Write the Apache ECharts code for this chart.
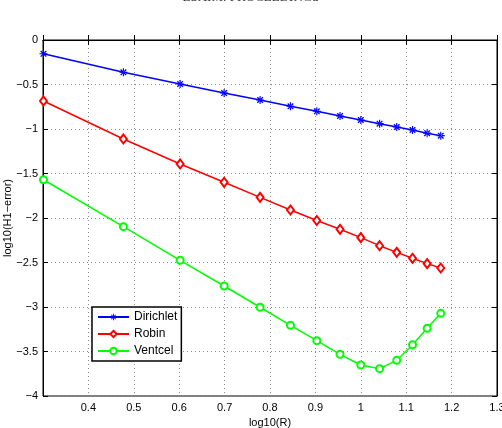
<!DOCTYPE html>
<html>
<head>
  <meta charset="utf-8">
  <title>log10(H1-error)</title>
  <script src="https://cdn.jsdelivr.net/npm/echarts@6/dist/echarts.min.js"></script>
</head>
<style>
  html, body { margin: 0; padding: 0; background: #fff; }
  #main { width: 502px; height: 428px; }
</style>
<body>
  <div id="main"></div>
  <script>
    // log10(R), R = 2..15
    const logR = [0.30103, 0.47712, 0.60206, 0.69897, 0.77815, 0.84510, 0.90309,
                  0.95424, 1.0, 1.04139, 1.07918, 1.11394, 1.14613, 1.17609];
    const dirichlet = [-0.155, -0.363, -0.494, -0.596, -0.674, -0.745, -0.801,
                       -0.854, -0.899, -0.940, -0.978, -1.011, -1.047, -1.075];
    const robin = [-0.685, -1.112, -1.393, -1.599, -1.768, -1.910, -2.028,
                   -2.127, -2.221, -2.311, -2.386, -2.453, -2.513, -2.562];
    const ventcel = [-1.570, -2.097, -2.475, -2.764, -3.003, -3.206, -3.378,
                     -3.532, -3.652, -3.693, -3.599, -3.424, -3.240, -3.071];

    // 8-armed asterisk like the matlab '*' marker
    const asterisk = 'path://M-0.7,-5 L0.7,-5 L0.7,5 L-0.7,5 Z M-5,-0.7 L5,-0.7 L5,0.7 L-5,0.7 Z ' +
      'M-2.93,-4.07 L4.07,2.93 L2.93,4.07 L-4.07,-2.93 Z M-2.93,4.07 L4.07,-2.93 L2.93,-4.07 L-4.07,2.93 Z';

    const font = 'Liberation Sans';
    const pair = (xs, ys) => xs.map((x, i) => [x, ys[i]]);

    const chart = echarts.init(document.getElementById('main'));

    const tickIn = { show: true, inside: true, length: 5, lineStyle: { color: '#000' } };
    const grid = { show: true, type: [1, 3], color: '#8c8c8c', width: 1 };

    chart.setOption({
      animation: false,
      graphic: [{
        type: 'text', left: 'center', top: -9,
        style: { text: 'ESAIM: PROCEEDINGS', font: '13px "Liberation Serif"', fill: '#333' }
      }],
      grid: {
        left: 43, right: 5, top: 40, bottom: 32, outerBoundsMode: 'none',
        show: true, borderColor: '#000', borderWidth: 1
      },
      xAxis: [{
        type: 'value', min: 0.3, max: 1.3, interval: 0.1,
        name: 'log10(R)', nameLocation: 'middle', nameGap: 19,
        nameTextStyle: { fontFamily: font, fontSize: 11, color: '#000' },
        axisLine: { lineStyle: { color: '#000' } },
        axisTick: tickIn,
        axisLabel: {
          fontFamily: font, fontSize: 11, color: '#000', margin: 6,
          formatter: v => Math.abs(v - 0.3) < 1e-6 ? '' : String(+v.toFixed(1))
        },
        splitLine: { show: true, lineStyle: grid }
      }, {
        type: 'value', position: 'top', min: 0.3, max: 1.3, interval: 0.1,
        axisLine: { lineStyle: { color: '#000' } },
        axisTick: tickIn, axisLabel: { show: false }, splitLine: { show: false }
      }],
      yAxis: [{
        type: 'value', min: -4, max: 0, interval: 0.5,
        name: 'log10(H1\u2212error)', nameLocation: 'middle', nameGap: 30,
        nameMoveOverlap: false,
        nameTextStyle: { fontFamily: font, fontSize: 11, color: '#000' },
        axisLine: { show: true, lineStyle: { color: '#000' } },
        axisTick: tickIn,
        axisLabel: {
          fontFamily: font, fontSize: 11, color: '#000', margin: 5,
          formatter: v => String(+v.toFixed(1)).replace('-', '\u2212')
        },
        splitLine: { show: true, lineStyle: grid }
      }, {
        type: 'value', position: 'right', min: -4, max: 0, interval: 0.5,
        axisLine: { show: true, lineStyle: { color: '#000' } },
        axisTick: tickIn, axisLabel: { show: false }, splitLine: { show: false }
      }],
      legend: {
        orient: 'vertical', left: 92, top: 307,
        padding: [4, 4, 4, 5], itemGap: 5, itemWidth: 31, itemHeight: 8,
        borderColor: '#000', borderWidth: 1.5, backgroundColor: '#fff',
        textStyle: { fontFamily: font, fontSize: 12, color: '#000' },
        data: ['Dirichlet', 'Robin', 'Ventcel']
      },
      series: [{
        name: 'Dirichlet', type: 'line', data: pair(logR, dirichlet),
        symbol: asterisk, symbolSize: 8,
        lineStyle: { color: '#0000ff', width: 1.5 },
        itemStyle: { color: '#0000ff' }
      }, {
        name: 'Robin', type: 'line', data: pair(logR, robin),
        symbol: 'emptyDiamond', symbolSize: [7, 9],
        lineStyle: { color: '#ff0000', width: 1.5 },
        itemStyle: { color: '#ff0000', borderWidth: 1.3 }
      }, {
        name: 'Ventcel', type: 'line', data: pair(logR, ventcel),
        symbol: 'emptyCircle', symbolSize: 7,
        lineStyle: { color: '#00ff00', width: 1.5 },
        itemStyle: { color: '#00ff00', borderWidth: 1.3 }
      }]
    });
  </script>
</body>
</html>
